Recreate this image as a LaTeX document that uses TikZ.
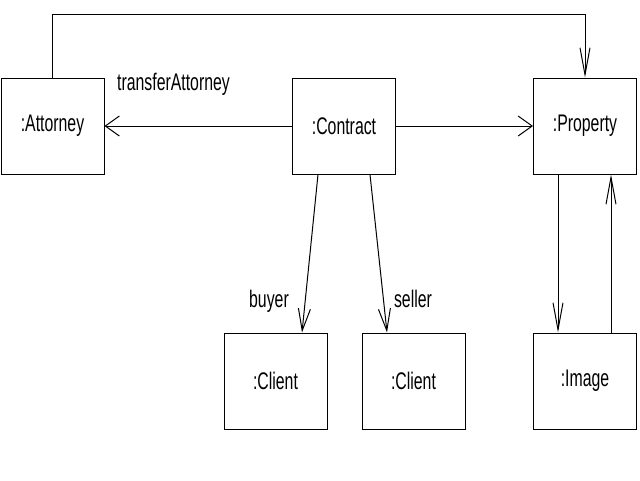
\documentclass[tikz,border=0pt]{standalone}
\usepackage{fontspec}
\newfontfamily\umlfont{Liberation Sans}[FakeStretch=0.66]
\usetikzlibrary{arrows.meta}

\tikzset{>={Straight Barb[length=14pt,width=20pt]}}

\begin{document}
\begin{tikzpicture}[x=1pt,y=-1pt,line width=1pt]

	\tikzstyle{object_box} = [draw=black, minimum width=103pt, minimum height=96pt, inner sep=0pt, font=\umlfont\fontsize{24}{28}\selectfont]
	\tikzstyle{link_label} = [anchor=base, inner sep=0pt, font=\umlfont\fontsize{24}{28}\selectfont]
	\tikzstyle{arrow_h} = [->]
	\tikzstyle{arrow_v} = [-{Straight Barb[length=27pt,width=10pt]}]
	\tikzstyle{arrow_s} = [-{Straight Barb[length=22pt,width=12pt]}]

	\useasboundingbox (0,0) rectangle (640,480);

%------------------------------------------------------------
	\node[object_box] (attorney) at (52.5,126) {:Attorney};
	\node[object_box] (contract) at (344,126) {:Contract};
	\node[object_box] (property) at (585,126) {:Property};

%------------------------------------------------------------

	\node[object_box] (buyer) at (275.5,381) {:Client};
	\node[object_box] (seller) at (413.5,381) {:Client};
	\node[object_box] (image) at (585,381) {:Image};

%------------------------------------------------------------

	\coordinate (top) at (0,14.5);

	\draw[arrow_h] (contract) -- (attorney);
	\draw[arrow_h] (contract) -- (property);
	\draw[arrow_v] (attorney.north) -- (attorney.north |- top) -| (property.north);

	\draw[arrow_s] ([xshift=-26pt]contract.south) -- ([xshift=26.5pt]buyer.north);
	\draw[arrow_s] ([xshift=26pt]contract.south) -- ([xshift=-26.5pt]seller.north);

	\draw[arrow_v] ([xshift=-27pt]property.south) -- ([xshift=-27pt]image.north);
	\draw[arrow_v] ([xshift=26pt]image.north) -- ([xshift=26pt]property.south);

%------------------------------------------------------------

	\node[link_label] (transfer) at (173.5,90) {transferAttorney};
	\node[link_label] (buyerrole) at (269,307) {buyer};
	\node[link_label] (sellerrole) at (413,307) {seller};

\end{tikzpicture}
\end{document}
